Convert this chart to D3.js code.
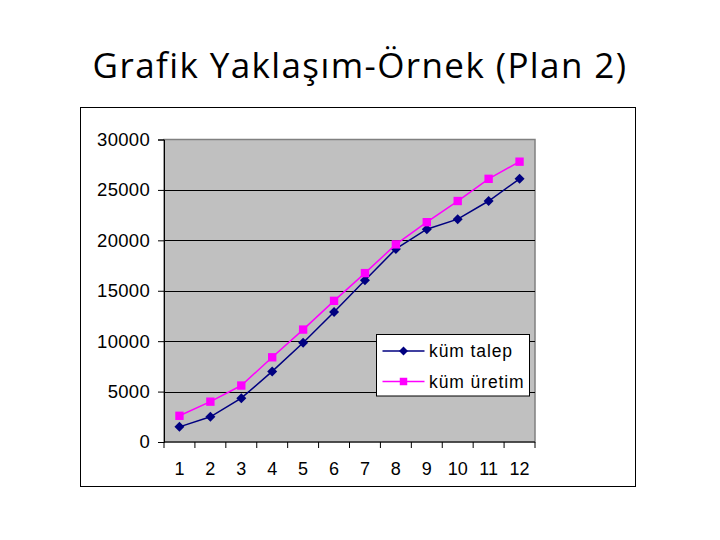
<!DOCTYPE html>
<html>
<head>
<meta charset="utf-8">
<script src="https://cdn.jsdelivr.net/npm/d3@7"></script>
<style>
  body { margin: 0; background: #fff; }
  svg { display: block; }
</style>
</head>
<body>
<div id="chart"></div>
<script>
// ---------- Data ----------
const periods = [1, 2, 3, 4, 5, 6, 7, 8, 9, 10, 11, 12];
const kumTalep  = [1500, 2500, 4350, 7000, 9850, 12900, 16050, 19150, 21100, 22100, 23900, 26100];
const kumUretim = [2600, 4000, 5600, 8400, 11150, 14000, 16750, 19600, 21800, 23900, 26100, 27800];
const yTicks = [0, 5000, 10000, 15000, 20000, 25000, 30000];
const seriesNames = ["küm talep", "küm üretim"];

const W = 720, H = 540;
const plot = { left: 164, right: 535, top: 139.5, bottom: 442 };
const labelFont = "'Liberation Sans', Arial, sans-serif";

const svg = d3.select("#chart").append("svg")
  .attr("width", W)
  .attr("height", H);

// Title
svg.append("text")
  .attr("x", 360)
  .attr("y", 78)
  .attr("text-anchor", "middle")
  .attr("font-family", "'Open Sans', sans-serif")
  .attr("font-size", 35)
  .attr("letter-spacing", 1.4)
  .attr("fill", "#000")
  .text("Grafik Yaklaşım-Örnek (Plan 2)");

// Outer chart frame
svg.append("rect")
  .attr("x", 80.5).attr("y", 107.5)
  .attr("width", 555).attr("height", 379)
  .attr("fill", "#fff")
  .attr("stroke", "#000")
  .attr("stroke-width", 1);

// ---------- Scales ----------
const x = d3.scaleBand()
  .domain(periods)
  .range([plot.left, plot.right]);

const y = d3.scaleLinear()
  .domain([0, 30000])
  .range([plot.bottom, plot.top]);

// Plot area
svg.append("rect")
  .attr("x", plot.left).attr("y", plot.top)
  .attr("width", plot.right - plot.left)
  .attr("height", plot.bottom - plot.top)
  .attr("fill", "#c0c0c0")
  .attr("stroke", "#808080")
  .attr("stroke-width", 1.5);

// Gridlines
svg.append("g")
  .selectAll("line")
  .data(yTicks.filter(d => d > 0 && d < 30000))
  .enter().append("line")
  .attr("x1", plot.left).attr("x2", plot.right)
  .attr("y1", d => Math.round(y(d)) + 0.5)
  .attr("y2", d => Math.round(y(d)) + 0.5)
  .attr("stroke", "#000")
  .attr("stroke-width", 1);

// Y axis
const yAxis = svg.append("g")
  .attr("transform", `translate(${plot.left},0)`)
  .call(d3.axisLeft(y).tickValues(yTicks).tickSize(6).tickPadding(8).tickFormat(d3.format("d")));
yAxis.select(".domain").attr("stroke", "#000");
yAxis.selectAll("text")
  .attr("font-family", labelFont)
  .attr("font-size", 18.5)
  .attr("letter-spacing", 0.3)
  .attr("fill", "#000");

// X axis: ticks at category boundaries, labels centred
const xAxisG = svg.append("g")
  .attr("transform", `translate(0,${plot.bottom})`);
xAxisG.append("line")
  .attr("x1", plot.left).attr("x2", plot.right)
  .attr("stroke", "#000");
xAxisG.selectAll("line.tick")
  .data(periods.concat(["end"]))
  .enter().append("line")
  .attr("class", "tick")
  .attr("x1", d => d === "end" ? x.range()[1] : x(d))
  .attr("x2", d => d === "end" ? x.range()[1] : x(d))
  .attr("y1", 0).attr("y2", 6)
  .attr("stroke", "#000");
xAxisG.selectAll("text")
  .data(periods)
  .enter().append("text")
  .attr("x", d => x(d) + x.bandwidth() / 2)
  .attr("y", 33)
  .attr("text-anchor", "middle")
  .attr("font-family", labelFont)
  .attr("font-size", 18)
  .attr("fill", "#000")
  .text(d => d);

// ---------- Series ----------
const cx = d => x(d) + x.bandwidth() / 2;
const line = d3.line()
  .x(d => cx(d[0]))
  .y(d => y(d[1]));

const series = [
  { name: seriesNames[0], values: kumTalep, color: "#000080", rotate: 45, size: 50 },
  { name: seriesNames[1], values: kumUretim, color: "#ff00ff", rotate: 0, size: 70 }
];

series.forEach(s => {
  const pts = periods.map((p, i) => [p, s.values[i]]);
  svg.append("path")
    .datum(pts)
    .attr("d", line)
    .attr("fill", "none")
    .attr("stroke", s.color)
    .attr("stroke-width", 1.5);
  svg.append("g")
    .selectAll("path")
    .data(pts)
    .enter().append("path")
    .attr("d", d3.symbol().type(d3.symbolSquare).size(s.size))
    .attr("transform", d => `translate(${cx(d[0])},${y(d[1])}) rotate(${s.rotate})`)
    .attr("fill", s.color);
});

// ---------- Legend ----------
const legend = svg.append("g").attr("transform", "translate(376.5,334.5)");
legend.append("rect")
  .attr("width", 153).attr("height", 61.5)
  .attr("fill", "#fff")
  .attr("stroke", "#000");
series.forEach((s, i) => {
  const ly = 16.5 + i * 30.5;
  legend.append("line")
    .attr("x1", 6).attr("x2", 48)
    .attr("y1", ly).attr("y2", ly)
    .attr("stroke", s.color)
    .attr("stroke-width", 1.5);
  legend.append("path")
    .attr("d", d3.symbol().type(d3.symbolSquare).size(s.size * 0.8))
    .attr("transform", `translate(27,${ly}) rotate(${s.rotate})`)
    .attr("fill", s.color);
  legend.append("text")
    .attr("x", 52.5)
    .attr("y", ly + 6)
    .attr("font-family", labelFont)
    .attr("font-size", 17.5)
    .attr("letter-spacing", 0.9)
    .attr("fill", "#000")
    .text(s.name);
});
</script>
</body>
</html>
